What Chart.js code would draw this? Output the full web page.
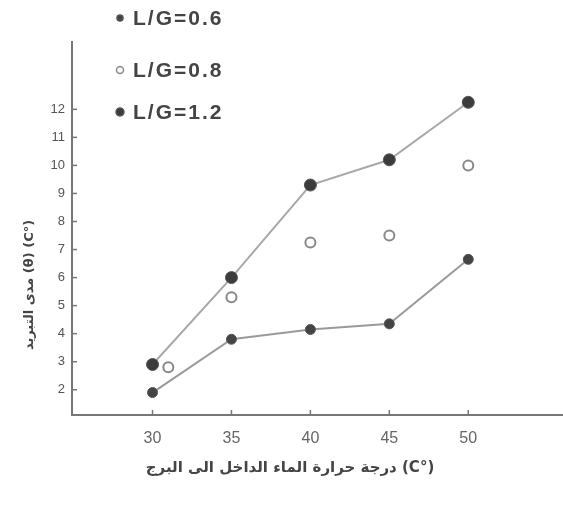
<!DOCTYPE html>
<html>
<head>
<meta charset="utf-8">
<script src="https://cdn.jsdelivr.net/npm/chart.js@4.4.1/dist/chart.umd.min.js"></script>
<style>
    html, body { margin: 0; padding: 0; background: #fff; }
    #wrap { width: 563px; height: 510px; }
</style>
</head>
<body>
<div id="wrap"><canvas id="tempChart" width="563" height="510"></canvas></div>
<script>
// Data
const xTemps = [30, 35, 40, 45, 50];
const xTempsLG08 = [31, 35, 40, 45, 50]; // open circles at 30 are drawn slightly to the right
const lg06 = [1.9, 3.8, 4.15, 4.35, 6.65];
const lg08 = [2.8, 5.3, 7.25, 7.5, 10.0];
const lg12 = [2.9, 6.0, 9.3, 10.2, 12.25];
const seriesLabels = ['L/G=0.6', 'L/G=0.8', 'L/G=1.2'];
const xTickValues = [30, 35, 40, 45, 50];
const yTickValues = [2, 3, 4, 5, 6, 7, 8, 9, 10, 11, 12];
const xTitle = 'درجة حرارة الماء الداخل الى البرج (C°)';
const yTitle = 'مدى التبريد (θ) (C°)';

const toPoints = (xs, ys) => xs.map((x, i) => ({ x: x, y: ys[i] }));

// legend + axis titles + inward tick marks
const scanDecor = {
    id: 'scanDecor',
    afterDraw(chart) {
        const ctx = chart.ctx;
        const xs = chart.scales.x;
        const ys = chart.scales.y;
        const area = chart.chartArea;

        ctx.save();
        // inward tick marks
        ctx.strokeStyle = '#777';
        ctx.lineWidth = 1.5;
        yTickValues.forEach(v => {
            const py = ys.getPixelForValue(v);
            ctx.beginPath();
            ctx.moveTo(area.left, py);
            ctx.lineTo(area.left + 5, py);
            ctx.stroke();
        });
        xTickValues.forEach(v => {
            const px = xs.getPixelForValue(v);
            ctx.beginPath();
            ctx.moveTo(px, area.bottom);
            ctx.lineTo(px, area.bottom - 5);
            ctx.stroke();
        });

        // legend
        const legendY = [18, 70, 112];
        chart.data.datasets.forEach((ds, i) => {
            const mx = 120, my = legendY[i];
            ctx.beginPath();
            ctx.arc(mx, my, ds.legendRadius, 0, Math.PI * 2);
            ctx.fillStyle = ds.pointBackgroundColor;
            ctx.fill();
            ctx.lineWidth = 1.5;
            ctx.strokeStyle = ds.pointBorderColor;
            ctx.stroke();

            ctx.fillStyle = '#444';
            ctx.font = 'bold 21px "Liberation Sans", Arial, sans-serif';
            ctx.letterSpacing = '2px';
            ctx.textAlign = 'left';
            ctx.textBaseline = 'middle';
            ctx.fillText(ds.label, 133, my + 1);
        });
        ctx.letterSpacing = '0px';

        // x title
        ctx.fillStyle = '#444';
        ctx.font = 'bold 15px "DejaVu Sans", sans-serif';
        ctx.textAlign = 'center';
        ctx.textBaseline = 'middle';
        ctx.fillText(xTitle, 290, 468);

        // y title (rotated)
        ctx.translate(30, 285);
        ctx.rotate(-Math.PI / 2);
        ctx.font = 'bold 13px "DejaVu Sans", sans-serif';
        ctx.fillText(yTitle, 0, 0);
        ctx.restore();
    }
};

const ctx = document.getElementById('tempChart');

new Chart(ctx, {
    type: 'scatter',
    data: {
        datasets: [{
            label: seriesLabels[0],
            data: toPoints(xTemps, lg06),
            showLine: true,
            borderColor: '#9a9a9a',
            borderWidth: 2,
            pointBackgroundColor: '#444',
            pointBorderColor: '#555',
            pointBorderWidth: 1,
            pointRadius: 5,
            legendRadius: 3,
            tension: 0
        }, {
            label: seriesLabels[1],
            data: toPoints(xTempsLG08, lg08),
            showLine: false,
            borderColor: '#888',
            pointBackgroundColor: '#fff',
            pointBorderColor: '#888',
            pointBorderWidth: 2,
            pointRadius: 5,
            legendRadius: 3.5
        }, {
            label: seriesLabels[2],
            data: toPoints(xTemps, lg12),
            showLine: true,
            borderColor: '#a8a8a8',
            borderWidth: 2,
            pointBackgroundColor: '#3c3c3c',
            pointBorderColor: '#555',
            pointBorderWidth: 1,
            pointRadius: 6,
            legendRadius: 4,
            tension: 0
        }]
    },
    options: {
        responsive: false,
        animation: false,
        layout: {
            autoPadding: false,
            padding: { top: 42, right: 0, left: 0, bottom: 0 }
        },
        plugins: {
            legend: { display: false },
            tooltip: { enabled: false }
        },
        scales: {
            x: {
                type: 'linear',
                min: 24.9,
                max: 56,
                afterBuildTicks: axis => {
                    axis.ticks = xTickValues.map(v => ({ value: v }));
                },
                afterFit: axis => {
                    axis.height = 95;
                    axis.paddingLeft = 0;
                    axis.paddingRight = 0;
                },
                grid: { display: false, drawTicks: false },
                border: { display: true, color: '#777', width: 2 },
                ticks: {
                    padding: 14,
                    color: '#666',
                    font: { family: '"Liberation Sans", Arial, sans-serif', size: 16 },
                    maxRotation: 0
                }
            },
            y: {
                type: 'linear',
                min: 1.1,
                max: 14.4,
                afterBuildTicks: axis => {
                    axis.ticks = yTickValues.map(v => ({ value: v }));
                },
                afterFit: axis => { axis.width = 72; },
                grid: { display: false, drawTicks: false },
                border: { display: true, color: '#777', width: 2 },
                ticks: {
                    padding: 7,
                    color: '#555',
                    font: { family: '"Liberation Sans", Arial, sans-serif', size: 13 }
                }
            }
        }
    },
    plugins: [scanDecor]
});
</script>
</body>
</html>
